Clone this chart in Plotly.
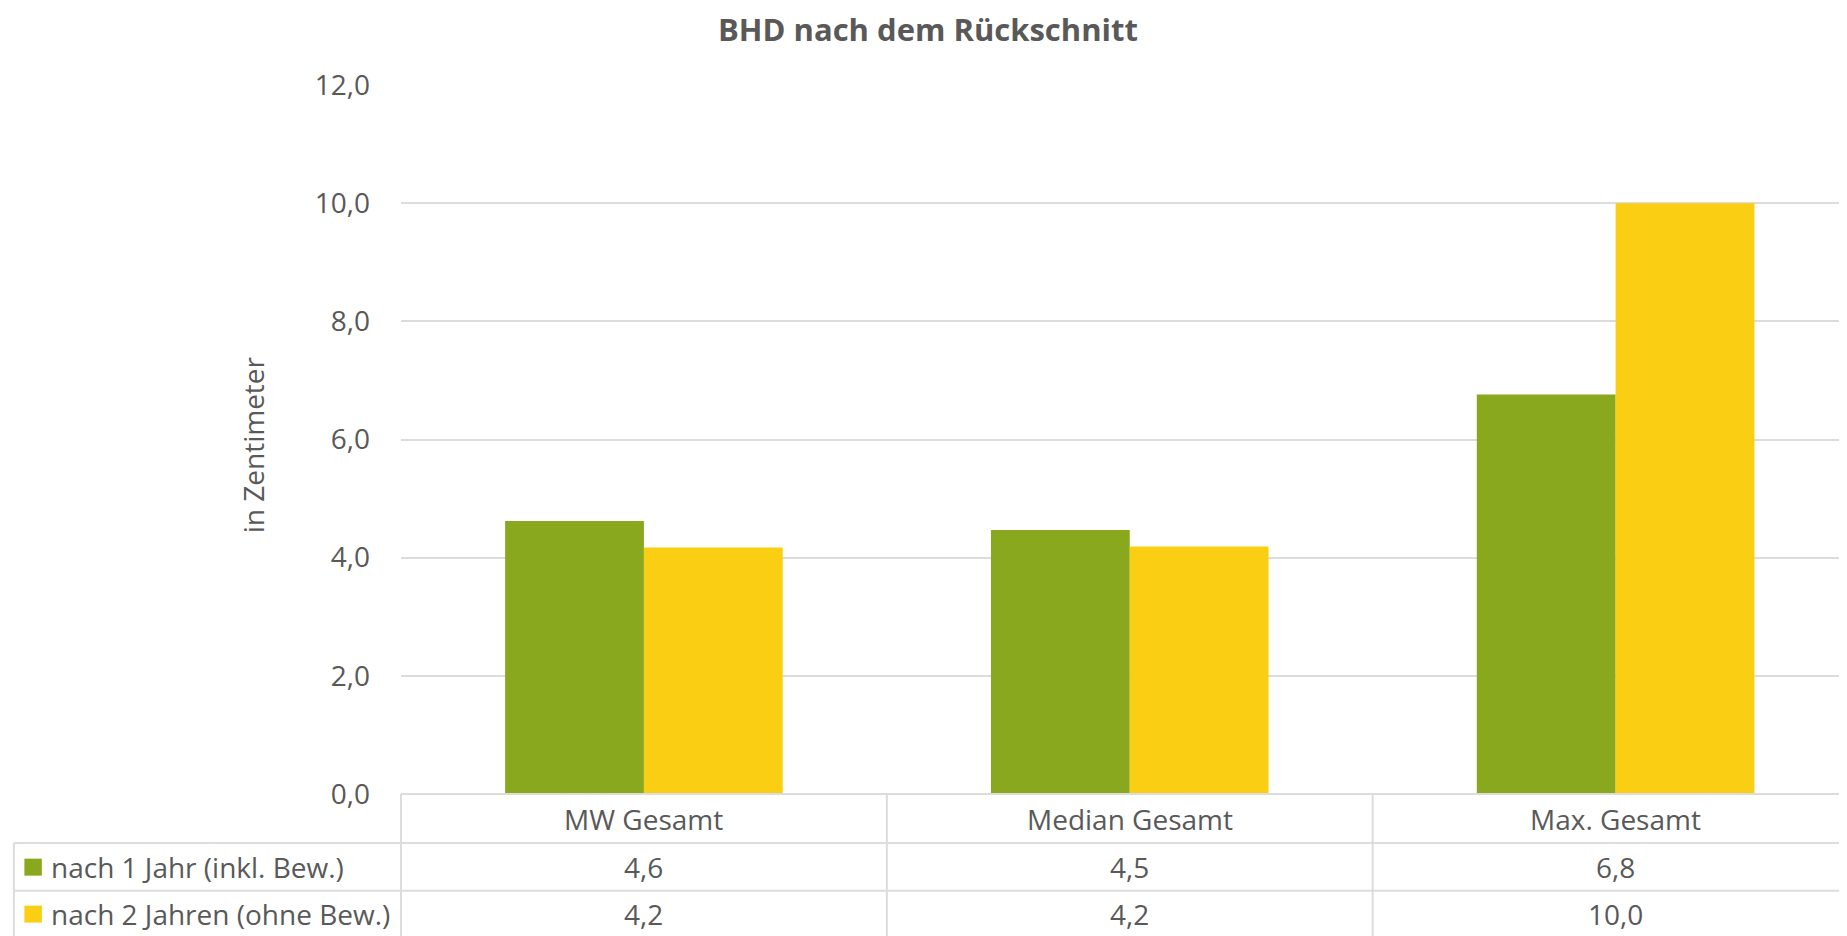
import plotly.graph_objects as go

# ---- data ----
categories = ["MW Gesamt", "Median Gesamt", "Max. Gesamt"]
series_names = ["nach 1 Jahr (inkl. Bew.)", "nach 2 Jahren (ohne Bew.)"]
values_year1 = [4.62, 4.47, 6.76]
values_year2 = [4.17, 4.19, 10.0]
series_colors = ["#8AA81E", "#FACE13"]
y_ticks = [0, 2, 4, 6, 8, 10, 12]
title_text = "BHD nach dem Rückschnitt"
y_title = "in Zentimeter"

FONT = "Open Sans"
TXT = "#595959"
GRID = "#DCDCDC"

# page body has an 8px margin; work in screen pixels and shift
OFF = 8
SCREEN_W, SCREEN_H = 1847, 936
W, H = SCREEN_W - OFF, SCREEN_H - OFF
L_s, T_s, Bottom_s = 400.7, 84.8, 794.3   # screen px of plot area
L = L_s - OFF
T = T_s - OFF
B = H - (Bottom_s - OFF)
PW = W - L
PH = H - T - B


def px2x(px):
    return (px - OFF - L) / PW


def py2y(py):
    return ((Bottom_s - OFF) - (py - OFF)) / PH


fig = go.Figure()
x_idx = list(range(len(categories)))
for name, vals, col in zip(series_names, [values_year1, values_year2], series_colors):
    fig.add_trace(go.Bar(x=x_idx, y=vals, name=name, marker=dict(color=col, line=dict(width=0))))

shapes = []
annotations = []

line_style = dict(color=GRID, width=2)
shapes.append(dict(type="line", xref="paper", yref="paper", x0=0, x1=1.01, y0=0, y1=0, line=line_style))
for ypx in [843.3, 891.0]:
    shapes.append(dict(type="line", xref="paper", yref="paper", x0=px2x(13.5), x1=1.01,
                       y0=py2y(ypx), y1=py2y(ypx), line=line_style))
shapes.append(dict(type="line", xref="paper", yref="paper", x0=0, x1=0, y0=0, y1=py2y(945), line=line_style))
shapes.append(dict(type="line", xref="paper", yref="paper", x0=px2x(13.5), x1=px2x(13.5),
                   y0=py2y(843.3), y1=py2y(945), line=line_style))
for i in range(len(categories) - 1):
    shapes.append(dict(type="line", xref="x", yref="paper", x0=i + 0.5, x1=i + 0.5,
                       y0=0, y1=py2y(945), line=line_style))

for i, c in enumerate(categories):
    annotations.append(dict(text=c, x=i, xref="x", y=py2y(819), yref="paper",
                            showarrow=False, xanchor="center", yanchor="middle",
                            font=dict(family=FONT, size=28, color=TXT)))

row_centers = [867.5, 914.5]
for r, (name, vals, col) in enumerate(zip(series_names, [values_year1, values_year2], series_colors)):
    yc = row_centers[r]
    shapes.append(dict(type="rect", xref="paper", yref="paper", x0=px2x(24), x1=px2x(41.5),
                       y0=py2y(yc - 8.5), y1=py2y(yc + 8.5), fillcolor=col, line=dict(width=0)))
    annotations.append(dict(text=name, x=px2x(49), xref="paper", y=py2y(yc), yref="paper",
                            showarrow=False, xanchor="left", yanchor="middle",
                            font=dict(family=FONT, size=28, color=TXT)))
    for i, v in enumerate(vals):
        annotations.append(dict(text=f"{v:.1f}".replace(".", ","), x=i, xref="x", y=py2y(yc), yref="paper",
                                showarrow=False, xanchor="center", yanchor="middle",
                                font=dict(family=FONT, size=28, color=TXT)))

annotations.append(dict(text="<b>" + title_text + "</b>", x=px2x(928), xref="paper", y=py2y(29), yref="paper",
                        showarrow=False, xanchor="center", yanchor="middle", borderpad=0,
                        font=dict(family=FONT, size=31, color=TXT)))
annotations.append(dict(text=y_title, x=px2x(253), xref="paper", y=py2y(445), yref="paper",
                        showarrow=False, xanchor="center", yanchor="middle", textangle=-90,
                        font=dict(family=FONT, size=28, color=TXT)))

fig.update_layout(
    width=W, height=H,
    margin=dict(l=L, r=0, t=T, b=B, pad=0),
    paper_bgcolor="white", plot_bgcolor="white",
    barmode="group", bargap=0.4286, bargroupgap=0,
    showlegend=False,
    separators=",.",
    shapes=shapes, annotations=annotations,
    xaxis=dict(range=[-0.5, 2.4763], showticklabels=False, showgrid=False, zeroline=False,
               showline=False, fixedrange=True),
    yaxis=dict(range=[0, 12], tickvals=y_ticks, tickformat=".1f", showgrid=True, gridcolor=GRID,
               gridwidth=2, zeroline=False, showline=False, ticks="", ticklabelstandoff=30,
               tickfont=dict(family=FONT, size=28, color=TXT)),
)

fig.write_html("out.html")
